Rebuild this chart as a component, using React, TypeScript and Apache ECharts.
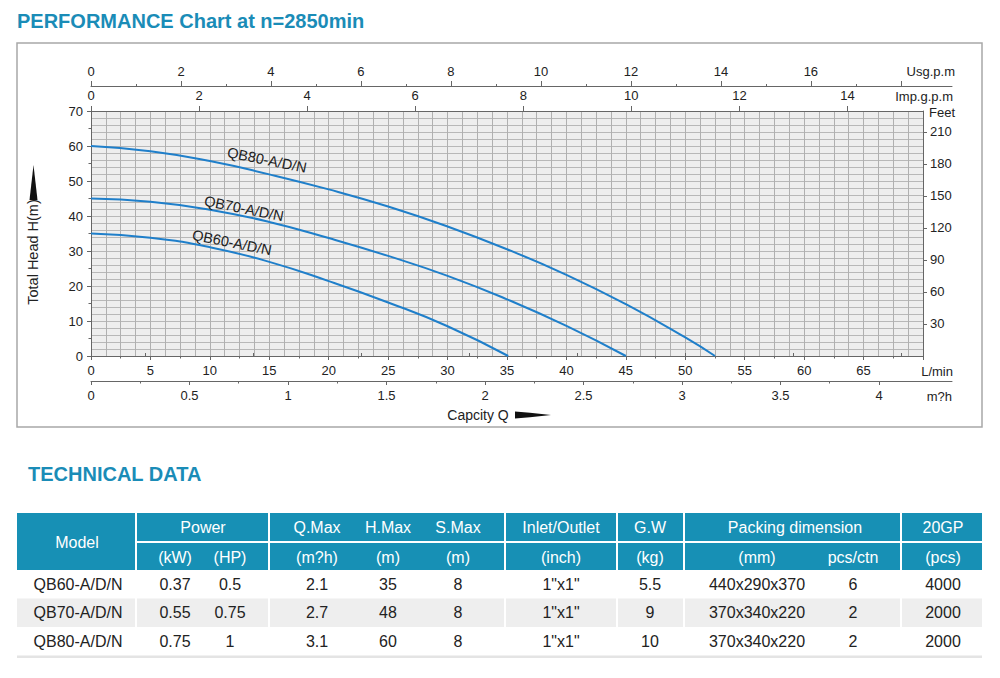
import React, { useEffect, useRef } from "react";
import * as echarts from "echarts";

const FONT = '"Liberation Sans", Arial, Helvetica, sans-serif';

// ---- performance curves (flow in L/min, head in m) ----
const qb60Flow = [0, 5, 10, 15, 20, 25, 30, 35.1];
const qb60Head = [35, 33.8, 31.1, 26.9, 21.4, 15.3, 8.5, 0];
const qb70Flow = [0, 5, 10, 15, 20, 25, 30, 35, 40, 45];
const qb70Head = [45, 44.1, 41.8, 38.3, 33.7, 28.6, 22.9, 16.2, 8.6, 0];
const qb80Flow = [0, 5, 10, 15, 20, 25, 30, 35, 40, 45, 50, 52.5];
const qb80Head = [60, 58.5, 55.7, 51.9, 47.6, 42.7, 37.0, 30.5, 23.2, 14.8, 5.3, 0];
const curveNames = ["QB60-A/D/N", "QB70-A/D/N", "QB80-A/D/N"];

// ---- axis ticks ----
const usgMajor = [0, 2, 4, 6, 8, 10, 12, 14, 16, 18];
const usgLabels = [0, 2, 4, 6, 8, 10, 12, 14, 16];
const usgMinor = [1, 3, 5, 7, 9, 11, 13, 15, 17];
const impLabels = [0, 2, 4, 6, 8, 10, 12, 14];
const impMinor = [1, 3, 5, 7, 9, 11, 13, 15];
const feetLabels = [30, 60, 90, 120, 150, 180, 210];
const m3hLabels = [0, 0.5, 1, 1.5, 2, 2.5, 3, 3.5, 4];
const m3hMinor = [0.25, 0.75, 1.25, 1.75, 2.25, 2.75, 3.25, 3.75];

// ---- technical data table ----
const models = ["QB60-A/D/N", "QB70-A/D/N", "QB80-A/D/N"];
const powerKW = ["0.37", "0.55", "0.75"];
const powerHP = ["0.5", "0.75", "1"];
const qMax = ["2.1", "2.7", "3.1"];
const hMax = ["35", "48", "60"];
const sMax = ["8", "8", "8"];
const inletOutlet = ['1"x1"', '1"x1"', '1"x1"'];
const grossWeight = ["5.5", "9", "10"];
const packingMM = ["440x290x370", "370x340x220", "370x340x220"];
const pcsPerCtn = ["6", "2", "2"];
const gp20 = ["4000", "2000", "2000"];
const headRow1 = ["Power", "Q.Max", "H.Max", "S.Max", "Inlet/Outlet", "G.W", "Packing dimension", "20GP"];
const headRow2 = ["(kW)", "(HP)", "(m?h)", "(m)", "(m)", "(inch)", "(kg)", "(mm)", "pcs/ctn", "(pcs)"];

// unit conversions
const L_PER_USG = 3.78541;
const L_PER_IMP = 4.54609;
const M_PER_FT = 0.3048;

// layout (pixels)
const PLOT_L = 91, PLOT_T = 111, PLOT_W = 832, PLOT_H = 245;
const LPM_MAX = 70, H_MAX = 70;
const PX_PER_LPM = PLOT_W / LPM_MAX;
const EXT_W = 861;
const PX_PER_M3H = 197;
const groupsX = [[17, 135], [137, 268], [270, 504], [506, 616], [618, 683], [685, 900], [902, 982]];
const head1X = [203, 317, 388, 458, 561, 650, 795, 943];
const colX = [175, 230, 317, 388, 458, 561, 650, 757, 853, 943];
const HEADER = "#1790b5";
const BLUE = "#1f7fca";
const AX = "#666";
const TXT = "#222";

const zip = (a: number[], b: number[]) => a.map((v, i) => [v, b[i]]);

function text(x: number, y: number, t: string, size: number, fill: string, opts: any = {}) {
  const align = opts.align || "center";
  return {
    type: "text",
    x,
    y,
    rotation: opts.rotation || 0,
    z: 10,
    silent: true,
    style: {
      text: t,
      fill,
      font: `${opts.bold ? "bold " : ""}${size}px ${FONT}`,
      align,
      verticalAlign: "middle",
      textAlign: align,
      textVerticalAlign: "middle",
    },
  };
}

function rect(x: number, y: number, w: number, h: number, fill: string, z = 1) {
  return { type: "rect", z, silent: true, shape: { x, y, width: w, height: h }, style: { fill } };
}

function buildGraphic() {
  const g: any[] = [];
  g.push({
    type: "rect", z: 0, silent: true,
    shape: { x: 17, y: 43, width: 965, height: 384 },
    style: { fill: "none", stroke: "#a8a8a8", lineWidth: 1.5 },
  });
  g.push(text(17, 21, "PERFORMANCE Chart at n=2850min", 20, "#1a8cb7", { bold: true, align: "left" }));
  g.push(text(28, 474, "TECHNICAL DATA", 20, "#1a8cb7", { bold: true, align: "left" }));

  g.push(text(955, 71, "Usg.p.m", 13, TXT, { align: "right" }));
  g.push(text(953, 96, "Imp.g.p.m", 13, TXT, { align: "right" }));
  g.push(text(929, 112, "Feet", 13, TXT, { align: "left" }));
  g.push(text(953, 371, "L/min", 13, TXT, { align: "right" }));
  g.push(text(952, 396, "m?h", 13, TXT, { align: "right" }));
  g.push(text(478, 415, "Capcity Q", 14, TXT));
  g.push(text(33, 252, "Total Head H(m)", 14.5, TXT, { rotation: Math.PI / 2 }));
  g.push({
    type: "polygon", z: 10, silent: true,
    shape: { points: [[515, 411.5], [530, 412.8], [551, 415], [530, 417.2], [515, 418.5]] },
    style: { fill: "#111" },
  });
  g.push({
    type: "polygon", z: 10, silent: true,
    shape: { points: [[33.5, 165], [37.5, 200], [29.5, 200]] },
    style: { fill: "#111" },
  });

  const rot = -0.2;
  g.push(text(267, 160, curveNames[2], 14.5, TXT, { rotation: rot }));
  g.push(text(244, 208.5, curveNames[1], 14.5, TXT, { rotation: rot }));
  g.push(text(232, 242.5, curveNames[0], 14.5, TXT, { rotation: rot }));

  // ---- table ----
  const r1y = 513, r1h = 28, r2y = 543, r2h = 27;
  groupsX.forEach(([a, b], i) => {
    if (i === 0) g.push(rect(a, r1y, b - a, r2y + r2h - r1y, HEADER));
    else {
      g.push(rect(a, r1y, b - a, r1h, HEADER));
      g.push(rect(a, r2y, b - a, r2h, HEADER));
    }
  });
  g.push(text(77, 542, "Model", 16, "#fff"));
  headRow1.forEach((t, i) => g.push(text(head1X[i], 527.5, t, 16, "#fff")));
  headRow2.forEach((t, i) => g.push(text(colX[i], 557, t, 16, "#fff")));

  const rowTop = [570, 598.5, 627];
  const rowH = 28.5;
  groupsX.forEach(([a, b]) => g.push(rect(a, rowTop[1], b - a, rowH, "#eeeeee")));
  g.push(rect(17, 655.5, 965, 2.5, "#e4e4e4"));
  const cols = [powerKW, powerHP, qMax, hMax, sMax, inletOutlet, grossWeight, packingMM, pcsPerCtn, gp20];
  models.forEach((m, r) => {
    const cy = rowTop[r] + rowH / 2;
    g.push(text(78, cy, m, 16, TXT));
    cols.forEach((col, c) => g.push(text(colX[c], cy, col[r], 16, TXT)));
  });
  return g;
}

export default function App() {
  const ref = useRef<HTMLDivElement>(null);
  useEffect(() => {
    const chart = echarts.init(ref.current!, null, { renderer: "svg" });
    const labelStyle = { color: TXT, fontSize: 13, fontFamily: FONT };
    const line = { show: true, onZero: false, lineStyle: { color: AX, width: 1 } };
    const tick = (len: number, customValues?: number[]) => ({
      show: true, inside: false, length: len, lineStyle: { color: AX, width: 1 },
      ...(customValues ? { customValues } : {}),
    });
    const option: any = {
      animation: false,
      backgroundColor: "#ffffff",
      textStyle: { fontFamily: FONT },
      grid: [
        { left: PLOT_L, top: PLOT_T, width: PLOT_W, height: PLOT_H, show: true, backgroundColor: "#eeeeee", borderWidth: 0, containLabel: false, outerBoundsMode: "none" },
        { left: PLOT_L, top: 86, width: EXT_W, height: 1, containLabel: false, outerBoundsMode: "none" },
        { left: PLOT_L, top: 380, width: EXT_W, height: 1, containLabel: false, outerBoundsMode: "none" },
      ],
      xAxis: [
        {
          type: "value", gridIndex: 0, position: "bottom", min: 0, max: LPM_MAX, interval: 5,
          axisLine: line, axisTick: tick(4),
          minorTick: { show: true, splitNumber: 2, length: 2.5, lineStyle: { color: AX } },
          axisLabel: { ...labelStyle, margin: 8, formatter: (v: number) => (v >= LPM_MAX ? "" : String(v)) },
          splitLine: { show: false },
        },
        {
          type: "value", gridIndex: 0, position: "bottom", min: 0, max: LPM_MAX, interval: 1.25,
          axisLine: { show: false }, axisTick: { show: false }, axisLabel: { show: false },
          splitLine: { show: true, lineStyle: { color: "#b0b0b0", width: 1 } },
        },
        {
          type: "value", gridIndex: 0, position: "top", min: 0, max: LPM_MAX / L_PER_IMP,
          axisLine: line, axisTick: tick(5, impLabels),
          axisLabel: { ...labelStyle, margin: 9, customValues: impLabels },
          splitLine: { show: false },
        },
        {
          type: "value", gridIndex: 0, position: "top", min: 0, max: LPM_MAX / L_PER_IMP,
          axisLine: { show: false }, axisTick: tick(3, impMinor), axisLabel: { show: false },
          splitLine: { show: false },
        },
        {
          type: "value", gridIndex: 1, position: "top", min: 0, max: EXT_W / (PX_PER_LPM * L_PER_USG),
          axisLine: line, axisTick: tick(5, usgMajor),
          axisLabel: { ...labelStyle, margin: 8, customValues: usgLabels },
          splitLine: { show: false },
        },
        {
          type: "value", gridIndex: 1, position: "top", min: 0, max: EXT_W / (PX_PER_LPM * L_PER_USG),
          axisLine: { show: false }, axisTick: tick(3, usgMinor), axisLabel: { show: false },
          splitLine: { show: false },
        },
        {
          type: "value", gridIndex: 2, position: "bottom", min: 0, max: EXT_W / PX_PER_M3H,
          axisLine: line, axisTick: tick(4, m3hLabels),
          axisLabel: { ...labelStyle, margin: 8, customValues: m3hLabels },
          splitLine: { show: false },
        },
        {
          type: "value", gridIndex: 2, position: "bottom", min: 0, max: EXT_W / PX_PER_M3H,
          axisLine: { show: false }, axisTick: tick(2.5, m3hMinor), axisLabel: { show: false },
          splitLine: { show: false },
        },
      ],
      yAxis: [
        {
          type: "value", gridIndex: 0, position: "left", min: 0, max: H_MAX, interval: 10,
          axisLine: line, axisTick: tick(4),
          minorTick: { show: true, splitNumber: 2, length: 2.5, lineStyle: { color: AX } },
          axisLabel: { ...labelStyle, margin: 8 },
          splitLine: { show: false },
        },
        {
          type: "value", gridIndex: 0, position: "left", min: 0, max: H_MAX, interval: 2,
          axisLine: { show: false }, axisTick: { show: false }, axisLabel: { show: false },
          splitLine: { show: true, lineStyle: { color: "#b8b8b8", width: 1 } },
        },
        {
          type: "value", gridIndex: 0, position: "right", min: 0, max: H_MAX / M_PER_FT,
          axisLine: line, axisTick: tick(4, feetLabels),
          axisLabel: { ...labelStyle, margin: 7, customValues: feetLabels },
          splitLine: { show: false },
        },
        { type: "value", gridIndex: 1, show: false },
        { type: "value", gridIndex: 2, show: false },
      ],
      series: [
        [qb60Flow, qb60Head],
        [qb70Flow, qb70Head],
        [qb80Flow, qb80Head],
      ].map(([f, h], i) => ({
        type: "line",
        name: curveNames[i],
        xAxisIndex: 0,
        yAxisIndex: 0,
        data: zip(f, h),
        smooth: 0.5,
        symbol: "none",
        silent: true,
        lineStyle: { color: BLUE, width: 2 },
        z: 5,
      })),
      graphic: buildGraphic(),
    };
    chart.setOption(option);
    return () => chart.dispose();
  }, []);
  return (
    <div
      ref={ref}
      style={{ position: "fixed", left: 0, top: 0, width: 1000, height: 678, background: "#fff" }}
    />
  );
}
